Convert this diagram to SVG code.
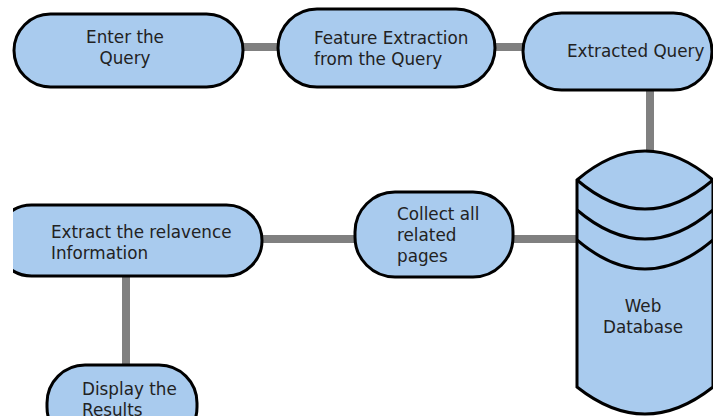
<svg xmlns="http://www.w3.org/2000/svg" width="713" height="416" viewBox="0 0 713 416">
  <style>
    .node { fill: #a9cbee; stroke: #000; stroke-width: 3; }
    .band { fill: none; stroke: #000; stroke-width: 3; }
    .link { stroke: #808080; stroke-width: 8; fill: none; }
    text { font-family: "DejaVu Sans", "Noto Sans", sans-serif; font-size: 16.8px; fill: #222; }
    .mid { text-anchor: middle; }
  </style>
  <defs>
    <clipPath id="leftEdge">
      <rect x="13" y="0" width="700" height="416"/>
    </clipPath>
  </defs>
  <rect width="713" height="416" fill="#fff"/>

  <!-- connectors -->
  <g id="connectors">
    <line class="link" x1="243" y1="47" x2="278" y2="47"/>
    <line class="link" x1="495" y1="47" x2="523" y2="47"/>
    <line class="link" x1="650" y1="90" x2="650" y2="155"/>
    <line class="link" x1="513" y1="239" x2="577" y2="239"/>
    <line class="link" x1="262" y1="239" x2="355" y2="239"/>
    <line class="link" x1="126" y1="276" x2="126" y2="366"/>
  </g>

  <g id="enter-query">
    <rect class="node" x="14" y="14" width="229" height="73" rx="36.5"/>
    <text class="mid" x="125" y="43">Enter the</text>
    <text class="mid" x="125" y="64">Query</text>
  </g>

  <g id="feature-extraction">
    <rect class="node" x="278" y="9" width="217" height="78" rx="39"/>
    <text x="314" y="44">Feature Extraction</text>
    <text x="314" y="65">from the Query</text>
  </g>

  <g id="extracted-query">
    <rect class="node" x="523" y="13" width="189" height="77" rx="38.5"/>
    <text x="567" y="57">Extracted Query</text>
  </g>

  <g id="web-database">
    <path class="node" d="M577,180 Q645,122 713,180 L713,387 Q645,441 577,387 Z"/>
    <path class="band" d="M577,180 Q645,238 713,180"/>
    <path class="band" d="M577,210 Q645,268 713,210"/>
    <path class="band" d="M577,240 Q645,298 713,240"/>
    <text class="mid" x="643" y="312">Web</text>
    <text class="mid" x="643" y="333">Database</text>
  </g>

  <g id="collect-pages">
    <rect class="node" x="355" y="192" width="158" height="85" rx="40"/>
    <text x="397" y="220">Collect all</text>
    <text x="397" y="241">related</text>
    <text x="397" y="262">pages</text>
  </g>

  <g id="extract-relevance" clip-path="url(#leftEdge)">
    <rect class="node" x="-4" y="205" width="266" height="71" rx="35.5"/>
    <text x="51" y="238">Extract the relavence</text>
    <text x="51" y="259">Information</text>
  </g>

  <g id="display-results">
    <rect class="node" x="47" y="365" width="150" height="80" rx="38"/>
    <text x="82" y="395">Display the</text>
    <text x="82" y="416">Results</text>
  </g>
</svg>
